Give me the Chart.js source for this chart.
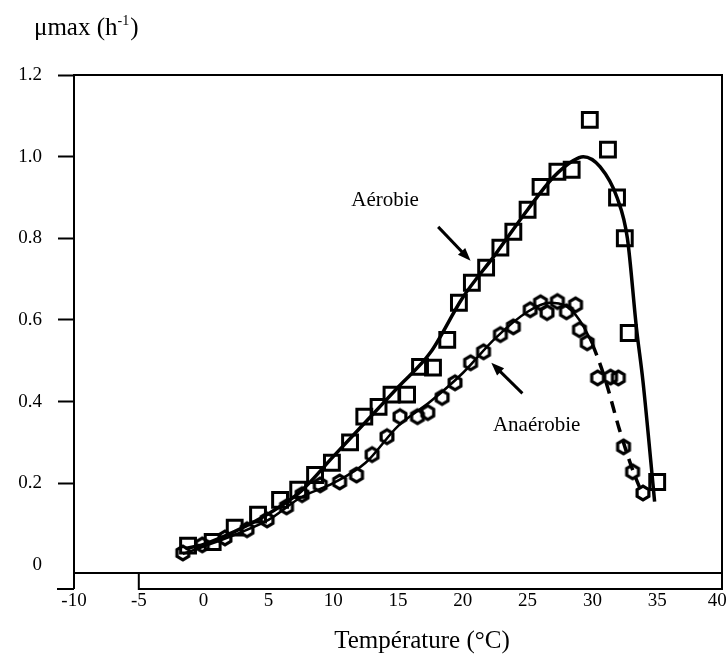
<!DOCTYPE html>
<html>
<head>
<meta charset="utf-8">
<script src="https://cdn.jsdelivr.net/npm/chart.js@4.4.1/dist/chart.umd.min.js"></script>
<style>
  body { margin: 0; background: #fff; }
  canvas { display: block; }
</style>
</head>
<body>
<canvas id="chart" width="728" height="661"></canvas>
<script>
// measured growth rates, aerobic (squares)
const aeroT = [-1.2, 0.7, 2.4, 4.2, 5.9, 7.3, 8.6, 9.9, 11.3, 12.4, 13.5, 14.5, 15.7, 16.7, 17.7, 18.8, 19.7, 20.7, 21.8, 22.9, 23.9, 25.0, 26.0, 27.3, 28.4, 29.8, 31.2, 31.9, 32.5, 32.8, 35.0];
const aeroV = [0.047, 0.056, 0.091, 0.123, 0.159, 0.184, 0.22, 0.25, 0.30, 0.363, 0.387, 0.417, 0.417, 0.485, 0.483, 0.551, 0.642, 0.691, 0.728, 0.777, 0.816, 0.87, 0.926, 0.963, 0.968, 1.09, 1.017, 0.90, 0.80, 0.568, 0.203];

// measured growth rates, anaerobic (hexagons)
const anaeT = [-1.6, -0.1, 1.65, 3.35, 4.9, 6.4, 7.6, 9.0, 10.5, 11.8, 13.0, 14.15, 15.15, 16.5, 17.3, 18.4, 19.4, 20.6, 21.6, 22.9, 23.9, 25.2, 26.0, 26.5, 27.3, 28.0, 28.7, 29.0, 29.6, 30.4, 31.4, 32.0, 32.4, 33.1, 33.9];
const anaeV = [0.029, 0.049, 0.066, 0.086, 0.11, 0.142, 0.172, 0.196, 0.203, 0.22, 0.27, 0.314, 0.363, 0.363, 0.373, 0.41, 0.446, 0.495, 0.522, 0.564, 0.583, 0.625, 0.642, 0.618, 0.645, 0.62, 0.637, 0.576, 0.544, 0.458, 0.46, 0.458, 0.289, 0.228, 0.176];

// fitted curves
const aeroFitT = [-1.4, 0, 2.5, 5, 7.5, 10, 12.5, 15, 17.5, 20, 22.5, 25, 27, 28.5, 29.3, 30.6, 31.9, 32.7, 33.4, 33.9, 34.8];
const aeroFitV = [0.04, 0.05, 0.083, 0.125, 0.18, 0.265, 0.35, 0.435, 0.52, 0.655, 0.76, 0.87, 0.95, 0.99, 1.0, 0.975, 0.90, 0.80, 0.58, 0.45, 0.155];
const anaeFitT = [-1.6, 0, 2.5, 5, 7.5, 10, 12.5, 15, 17.5, 20, 22.5, 25, 26.7, 27.9, 29.0, 30.0, 31.0, 32.1, 33.1, 33.9];
const anaeFitV = [0.027, 0.045, 0.075, 0.11, 0.165, 0.2, 0.25, 0.34, 0.40, 0.47, 0.555, 0.62, 0.642, 0.635, 0.60, 0.54, 0.453, 0.33, 0.233, 0.17];

const xTicks = [-10, -5, 0, 5, 10, 15, 20, 25, 30, 35, 40];
const yTicks = [0, 0.2, 0.4, 0.6, 0.8, 1.0, 1.2];

const serif = 'Liberation Serif';

function pts(xs, ys) {
  return xs.map((x, i) => ({ x: x, y: ys[i] }));
}

// hexagon marker
const hex = document.createElement('canvas');
hex.width = 20; hex.height = 20;
(function () {
  const c = hex.getContext('2d');
  c.strokeStyle = '#000';
  c.lineWidth = 3.2;
  c.beginPath();
  for (let k = 0; k < 6; k++) {
    const a = Math.PI / 6 + k * Math.PI / 3;
    const px = 10 + 6.8 * Math.cos(a), py = 10 + 6.8 * Math.sin(a);
    if (k === 0) c.moveTo(px, py); else c.lineTo(px, py);
  }
  c.closePath();
  c.stroke();
})();

function arrow(ctx, x0, y0, x1, y1) {
  const ang = Math.atan2(y1 - y0, x1 - x0);
  const cs = Math.cos(ang), sn = Math.sin(ang);
  ctx.beginPath();
  ctx.moveTo(x0, y0);
  ctx.lineTo(x1 - 8 * cs, y1 - 8 * sn);
  ctx.stroke();
  ctx.beginPath();
  ctx.moveTo(x1, y1);
  ctx.lineTo(x1 - 13 * cs + 5 * sn, y1 - 13 * sn - 5 * cs);
  ctx.lineTo(x1 - 13 * cs - 5 * sn, y1 - 13 * sn + 5 * cs);
  ctx.closePath();
  ctx.fill();
}

const frame = {
  id: 'frame',
  afterDatasetsDraw(chart) {
    const { ctx, chartArea: a, scales: { x, y } } = chart;
    ctx.save();
    ctx.strokeStyle = '#000';
    ctx.fillStyle = '#000';
    ctx.lineWidth = 2;
    ctx.strokeRect(a.left, a.top, a.right - a.left, a.bottom - a.top);

    // the second, lower baseline of the scanned figure
    const low = a.bottom + 16;
    const xa = x.getPixelForValue(-10), xb = x.getPixelForValue(-5);
    ctx.beginPath();
    ctx.moveTo(xa - 17, low); ctx.lineTo(xa, low);
    ctx.moveTo(xa, a.bottom); ctx.lineTo(xa, low);
    ctx.moveTo(xb, a.bottom); ctx.lineTo(xb, low); ctx.lineTo(a.right, low); ctx.lineTo(a.right, a.bottom);
    ctx.stroke();

    // annotations
    ctx.font = '21px "' + serif + '"';
    ctx.textAlign = 'center';
    ctx.textBaseline = 'middle';
    ctx.fillText('Aérobie', x.getPixelForValue(14.0), y.getPixelForValue(0.892));
    ctx.fillText('Anaérobie', x.getPixelForValue(25.7), y.getPixelForValue(0.342));
    ctx.lineWidth = 3;
    arrow(ctx, x.getPixelForValue(18.1), y.getPixelForValue(0.828), x.getPixelForValue(20.6), y.getPixelForValue(0.745));
    arrow(ctx, x.getPixelForValue(24.6), y.getPixelForValue(0.42), x.getPixelForValue(22.2), y.getPixelForValue(0.495));

    // axis titles
    ctx.textAlign = 'left';
    ctx.textBaseline = 'alphabetic';
    ctx.font = '25px "' + serif + '"';
    const t1 = 'μmax (h';
    ctx.fillText(t1, 34, 35);
    let w = ctx.measureText(t1).width;
    ctx.font = '14px "' + serif + '"';
    ctx.fillText('-1', 34 + w, 25);
    w += ctx.measureText('-1').width;
    ctx.font = '25px "' + serif + '"';
    ctx.fillText(')', 34 + w + 1, 35);

    ctx.textAlign = 'center';
    ctx.font = '25px "' + serif + '"';
    ctx.fillText('Température (°C)', 422, 648);
    ctx.restore();
  }
};

const tickFont = { family: serif, size: 19 };

new Chart(document.getElementById('chart'), {
  type: 'scatter',
  data: {
    datasets: [
      {
        data: pts(aeroFitT, aeroFitV),
        showLine: true,
        borderColor: '#000',
        borderWidth: 3.5,
        pointRadius: 0,
        cubicInterpolationMode: 'monotone'
      },
      {
        data: pts(anaeFitT, anaeFitV),
        showLine: true,
        borderColor: '#000',
        borderWidth: 2.5,
        pointRadius: 0,
        cubicInterpolationMode: 'monotone',
        segment: {
          borderDash: c => c.p0.parsed.x >= 29.5 ? [12, 8] : undefined,
          borderWidth: c => c.p0.parsed.x >= 29.5 ? 3.5 : 2.5
        }
      },
      {
        data: pts(aeroT, aeroV),
        pointStyle: 'rect',
        pointRadius: 10.5,
        pointBorderWidth: 3,
        pointBorderColor: '#000',
        pointBackgroundColor: 'rgba(0,0,0,0)'
      },
      {
        data: pts(anaeT, anaeV),
        pointStyle: hex,
        pointRadius: 8,
        pointBorderColor: '#000'
      }
    ]
  },
  options: {
    responsive: false,
    animation: false,
    devicePixelRatio: 1,
    layout: { autoPadding: false, padding: { top: 75, right: 6, left: 0, bottom: 0 } },
    plugins: { legend: { display: false }, tooltip: { enabled: false } },
    scales: {
      x: {
        type: 'linear',
        min: -10,
        max: 40,
        afterBuildTicks: s => { s.ticks = xTicks.map(v => ({ value: v })); },
        afterFit: s => { s.height = 88; s.paddingLeft = 0; s.paddingRight = 0; },
        border: { display: false },
        grid: { display: false, drawTicks: false },
        ticks: {
          padding: 17,
          color: '#000',
          font: tickFont,
          maxRotation: 0,
          // last label sits inside the page edge, as in the scan
          callback: v => v === 40 ? '40\u2002' : String(v)
        }
      },
      y: {
        min: -0.02,
        max: 1.2,
        afterBuildTicks: s => { s.ticks = yTicks.map(v => ({ value: v })); },
        afterFit: s => { s.width = 74; s.paddingTop = 0; s.paddingBottom = 0; },
        border: { display: false },
        grid: {
          drawOnChartArea: false,
          tickLength: 16,
          tickWidth: 2,
          color: c => (c.tick && c.tick.value === 0) ? 'rgba(0,0,0,0)' : '#000'
        },
        ticks: {
          padding: 16,
          color: '#000',
          font: tickFont,
          callback: v => v === 0 ? '0' : v.toFixed(1)
        }
      }
    }
  },
  plugins: [frame]
});
</script>
</body>
</html>
